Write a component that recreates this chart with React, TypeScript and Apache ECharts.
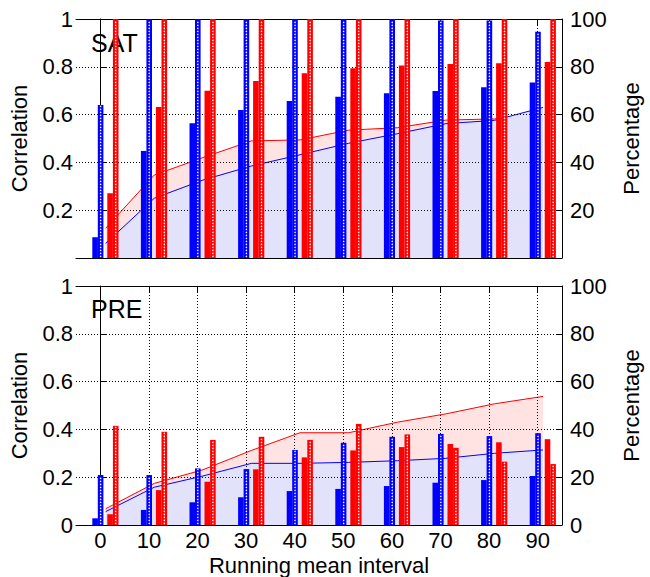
import React, { useEffect, useRef } from "react";
import * as echarts from "echarts";

// ---- data ----
const categories = [0, 10, 20, 30, 40, 50, 60, 70, 80, 90];
const axisSlots = ["-5", "0", "5", "10", "15", "20", "25", "30", "35", "40", "45", "50", "55", "60", "65", "70", "75", "80", "85", "90", "95"];
const corrTicks = [0, 0.2, 0.4, 0.6, 0.8, 1];
const pctTicks = [0, 20, 40, 60, 80, 100];

// SAT panel
const satCorrBlue = [0.087, 0.448, 0.564, 0.619, 0.657, 0.675, 0.689, 0.699, 0.714, 0.734];
const satPctBlue = [64, 100, 100, 100, 100, 100, 100, 99.4, 99.4, 94.7];
const satCorrRed = [0.271, 0.632, 0.7, 0.741, 0.773, 0.794, 0.805, 0.812, 0.815, 0.82];
const satPctRed = [100, 100, 100, 100, 100, 100, 100, 100, 100, 100];
const satLineBlue = [0.061, 0.25, 0.326, 0.385, 0.432, 0.48, 0.52, 0.562, 0.576, 0.63];
const satLineRed = [0.124, 0.347, 0.42, 0.49, 0.494, 0.535, 0.545, 0.577, 0.582, 0.59];

// PRE panel
const preCorrBlue = [0.028, 0.063, 0.095, 0.116, 0.142, 0.151, 0.163, 0.177, 0.188, 0.205];
const prePctBlue = [20.9, 20.9, 23.7, 23.4, 31.4, 34.4, 36.9, 38.1, 37.2, 38.4];
const preCorrRed = [0.045, 0.146, 0.181, 0.233, 0.283, 0.312, 0.326, 0.339, 0.346, 0.359];
const prePctRed = [41.5, 39.0, 35.6, 36.9, 35.6, 42.3, 37.9, 32.3, 26.5, 25.5];
const preLineBlue = [0.056, 0.158, 0.205, 0.258, 0.258, 0.262, 0.269, 0.279, 0.3, 0.314];
const preLineRed = [0.068, 0.174, 0.231, 0.312, 0.386, 0.386, 0.43, 0.465, 0.507, 0.538];

const lineXShift = 1.1;

const FONT = "Liberation Sans, Arial, Helvetica, sans-serif";
const BLUE = "#0000ff";
const RED = "#ff0000";
const BAR_W = 5.6;
const TICK_FS = 22;
const NAME_FS = 22;

function isMajor(index: number) {
  return index % 2 === 1;
}

function barSeries(values: number[], xIdx: number, yIdx: number, color: string, offset: number, hatched: boolean) {
  return {
    type: "custom",
    xAxisIndex: xIdx,
    yAxisIndex: yIdx,
    z: 4,
    clip: true,
    data: categories.map((c, i) => [c, values[i]]),
    renderItem: (params: any, api: any) => {
      const x = api.value(0);
      const v = api.value(1);
      const top = api.coord([x, v]);
      const base = api.coord([x, 0]);
      const cs = params.coordSys;
      const yTop = Math.max(top[1], cs.y);
      const left = top[0] + offset - BAR_W / 2;
      const h = base[1] - yTop;
      const children: any[] = [
        {
          type: "rect",
          shape: { x: left, y: yTop, width: BAR_W, height: h },
          style: { fill: color },
        },
      ];
      if (hatched) {
        for (let yy = base[1] - 1.6; yy > yTop + 1.0; yy -= 3.0) {
          children.push({
            type: "circle",
            shape: { cx: left + BAR_W / 2, cy: yy, r: 0.75 },
            style: { fill: "#ffffff" },
          });
        }
      }
      return { type: "group", children };
    },
  };
}

function lineSeries(values: number[], xIdx: number, yIdx: number, color: string, area: string, z: number) {
  return {
    type: "line",
    xAxisIndex: xIdx,
    yAxisIndex: yIdx,
    z,
    symbol: "none",
    data: categories.map((c, i) => [c + lineXShift, values[i]]),
    lineStyle: { color, width: 1 },
    itemStyle: { color },
    areaStyle: { color: area, opacity: 1 },
  };
}

function catAxis(gridIndex: number, position: string, showLabels: boolean, showSplit: boolean, name?: string) {
  return {
    type: "category",
    gridIndex,
    position,
    data: axisSlots,
    boundaryGap: false,
    z: 3,
    name: name || "",
    nameLocation: "middle",
    nameGap: 29,
    nameTextStyle: { fontSize: NAME_FS, fontFamily: FONT, color: "#000" },
    axisLine: { show: true, onZero: false, lineStyle: { color: "#000", width: 1 } },
    axisTick: { show: true, inside: true, length: 6, interval: (i: number) => isMajor(i), lineStyle: { color: "#000" } },
    axisLabel: {
      show: showLabels,
      interval: (i: number) => isMajor(i),
      fontSize: TICK_FS,
      fontFamily: FONT,
      color: "#000",
      margin: 4,
    },
    splitLine: {
      show: showSplit,
      interval: (i: number) => isMajor(i),
      lineStyle: { color: "#000", width: 1, type: [1, 2] },
    },
  };
}

function valXAxis(gridIndex: number) {
  return { type: "value", gridIndex, min: -5, max: 95, show: false };
}

function corrAxis(gridIndex: number, showMin: boolean) {
  return {
    type: "value",
    gridIndex,
    position: "left",
    min: corrTicks[0],
    max: corrTicks[corrTicks.length - 1],
    interval: corrTicks[1] - corrTicks[0],
    z: 3,
    name: "Correlation",
    nameLocation: "middle",
    nameGap: 46,
    nameTextStyle: { fontSize: NAME_FS, fontFamily: FONT, color: "#000" },
    axisLine: { show: true, lineStyle: { color: "#000", width: 1 } },
    axisTick: { show: true, inside: true, length: 6, lineStyle: { color: "#000" } },
    axisLabel: { showMinLabel: showMin, fontSize: TICK_FS, fontFamily: FONT, color: "#000", margin: 3 },
    splitLine: { show: true, lineStyle: { color: "#000", width: 1, type: [1, 2] } },
  };
}

function pctAxis(gridIndex: number, showMin: boolean) {
  return {
    type: "value",
    gridIndex,
    position: "right",
    min: pctTicks[0],
    max: pctTicks[pctTicks.length - 1],
    interval: pctTicks[1] - pctTicks[0],
    z: 3,
    name: "Percentage",
    nameLocation: "middle",
    nameGap: 58,
    nameTextStyle: { fontSize: NAME_FS, fontFamily: FONT, color: "#000" },
    axisLine: { show: true, lineStyle: { color: "#000", width: 1 } },
    axisTick: { show: true, inside: true, length: 6, lineStyle: { color: "#000" } },
    axisLabel: { showMinLabel: showMin, fontSize: TICK_FS, fontFamily: FONT, color: "#000", margin: 8 },
    splitLine: { show: false },
  };
}

export default function App() {
  const ref = useRef<HTMLDivElement>(null);
  useEffect(() => {
    document.body.style.margin = "0";
    if (!ref.current) return;
    const chart = echarts.init(ref.current, null, { renderer: "svg" });
    const option: any = {
      animation: false,
      backgroundColor: "#ffffff",
      grid: [
        { left: 75, top: 19, width: 502, height: 239 },
        { left: 75, top: 286, width: 502, height: 239 },
      ],
      xAxis: [
        catAxis(0, "bottom", false, true),
        catAxis(0, "top", false, false),
        valXAxis(0),
        catAxis(1, "bottom", true, true, "Running mean interval"),
        catAxis(1, "top", false, false),
        valXAxis(1),
      ],
      yAxis: [corrAxis(0, false), pctAxis(0, false), corrAxis(1, true), pctAxis(1, true)],
      graphic: [
        { type: "text", x: 91, y: 43, style: { text: "SAT", fontSize: 25, fontFamily: FONT, fill: "#000", verticalAlign: "middle" } },
        { type: "text", x: 91, y: 309, style: { text: "PRE", fontSize: 25, fontFamily: FONT, fill: "#000", verticalAlign: "middle" } },
      ],
      series: [
        lineSeries(satLineRed, 2, 0, RED, "#ffe2e2", 1),
        lineSeries(satLineBlue, 2, 0, BLUE, "#e2e2fa", 2),
        barSeries(satCorrBlue, 2, 0, BLUE, -5.2, false),
        barSeries(satPctBlue, 2, 1, BLUE, 0.3, true),
        barSeries(satCorrRed, 2, 0, RED, 9.8, false),
        barSeries(satPctRed, 2, 1, RED, 15.4, true),
        lineSeries(preLineRed, 5, 2, RED, "#ffe2e2", 1),
        lineSeries(preLineBlue, 5, 2, BLUE, "#e2e2fa", 2),
        barSeries(preCorrBlue, 5, 2, BLUE, -5.2, false),
        barSeries(prePctBlue, 5, 3, BLUE, 0.3, true),
        barSeries(preCorrRed, 5, 2, RED, 9.8, false),
        barSeries(prePctRed, 5, 3, RED, 15.4, true),
      ],
    };
    chart.setOption(option);
    return () => chart.dispose();
  }, []);
  return <div ref={ref} style={{ width: 650, height: 577 }} />;
}
